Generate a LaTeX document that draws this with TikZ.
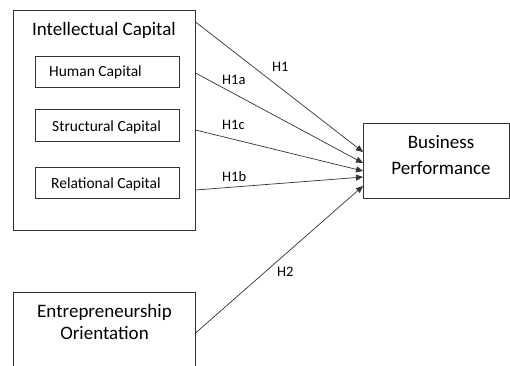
\documentclass[tikz,border=0pt]{standalone}
\usepackage{fontspec}
\setmainfont{Carlito}
\usetikzlibrary{arrows.meta}
\begin{document}
\begin{tikzpicture}[x=1pt,y=-1pt,
  box/.style={draw=black!80, line width=0.7pt, inner sep=0pt},
  big/.style={font=\fontsize{19}{22}\selectfont, inner sep=0pt},
  small/.style={font=\fontsize{15.5}{18}\selectfont, inner sep=0pt},
  lab/.style={font=\fontsize{14.5}{17}\selectfont, inner sep=0pt},
  link/.style={draw=black!80, line width=0.7pt, -{Triangle[length=7pt,width=6pt]}}]
\useasboundingbox (0,0) rectangle (510,365);
\clip (0,0) rectangle (510,365);

% Intellectual capital and its three components
\node[box, minimum width=182pt, minimum height=220pt] (ic) at (104,120) {};
\node[big, anchor=base] (ict) at (104,35) {Intellectual Capital};
\node[box, minimum width=144pt, minimum height=31pt] (hc) at (107,71.5) {};
\node[small, anchor=base west] (hct) at (49,76) {Human Capital};
\node[box, minimum width=144pt, minimum height=32pt] (sc) at (107,125) {};
\node[small, anchor=base west] (sct) at (52,131) {Structural Capital};
\node[box, minimum width=144pt, minimum height=31pt] (rc) at (107,182.5) {};
\node[small, anchor=base west] (rct) at (51,188) {Relational Capital};

% Entrepreneurship orientation (runs past the lower edge)
\node[box, minimum width=182pt, minimum height=100pt] (eo) at (104,342) {};
\node[big, anchor=base] (eot1) at (104.5,317) {Entrepreneurship};
\node[big, anchor=base] (eot2) at (104.5,339.5) {Orientation};

% Business performance
\node[box, minimum width=146.5pt, minimum height=75pt] (bp) at (436.25,160.5) {};
\node[big, anchor=base] (bpt1) at (441,148) {Business};
\node[big, anchor=base] (bpt2) at (441,174) {Performance};

% start and end points of the hypothesis paths
\coordinate (s1) at (195.5,22);
\coordinate (s1a) at (195.5,73);
\coordinate (s1c) at (195.5,130);
\coordinate (s1b) at (195.5,190);
\coordinate (s2) at (195.5,333);
\coordinate (e1) at (363,152);
\coordinate (e1a) at (363,163);
\coordinate (e1c) at (363,171);
\coordinate (e1b) at (363,177);
\coordinate (e2) at (363,186);

\draw[link] (s1) -- (e1);
\draw[link] (s1a) -- (e1a);
\draw[link] (s1c) -- (e1c);
\draw[link] (s1b) -- (e1b);
\draw[link] (s2) -- (e2);

\node[lab, anchor=base west] (h1) at (272,71) {H1};
\node[lab, anchor=base west] (h1a) at (222,84) {H1a};
\node[lab, anchor=base west] (h1c) at (222,129) {H1c};
\node[lab, anchor=base west] (h1b) at (222,181) {H1b};
\node[lab, anchor=base west] (h2) at (277,276) {H2};
\end{tikzpicture}
\end{document}
